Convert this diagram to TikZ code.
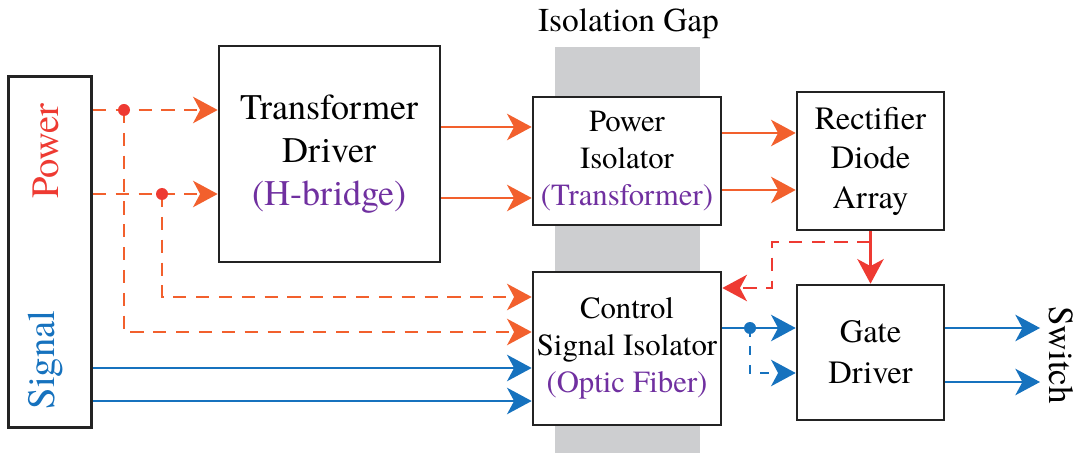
\documentclass[tikz,border=0pt]{standalone}
\usepackage{xcolor}
\usepackage{fontspec}
\setmainfont{TeX Gyre Termes}
\usepackage{tikz}
\usetikzlibrary{arrows.meta, positioning, calc}
\definecolor{myorange}{RGB}{242,96,45}
\definecolor{myred}{RGB}{238,58,50}
\definecolor{myblue}{RGB}{22,114,190}
\definecolor{mypurple}{RGB}{112,48,160}
\definecolor{mydark}{RGB}{35,35,35}
\definecolor{gapgray}{RGB}{205,206,208}
\tikzset{
  block/.style={rectangle, draw=mydark, fill=white, line width=1.5pt,
    align=center, inner sep=2pt},
  bigtxt/.style={font=\fontsize{20.5}{24.5}\selectfont},
  midtxt/.style={font=\fontsize{17.5}{21}\selectfont},
  tip/.style={-{Stealth[length=14pt,width=15pt,inset=4pt]}},
  parrow/.style={tip, line width=1.4pt, color=myorange},
  pdash/.style={parrow, dash pattern=on 7.5pt off 5.5pt},
  rarrow/.style={tip, line width=1.4pt, color=myred},
  rdash/.style={rarrow, dash pattern=on 7.5pt off 5.5pt},
  barrow/.style={tip, line width=1.4pt, color=myblue},
  bdash/.style={barrow, dash pattern=on 5pt off 5.5pt},
  junc/.style={circle, inner sep=0pt, minimum size=0.24cm}
}

\begin{document}
\begin{tikzpicture}
  \useasboundingbox (0,0) rectangle (21.56,9.06);

  % Isolation gap band
  \fill[gapgray] (11.10,0) rectangle (14.00,8.12);
  \node[font=\fontsize{19}{22}\selectfont] (gaplbl) at (12.57,8.58) {Isolation Gap};

  % Source box
  \node[block, minimum width=1.66cm, minimum height=7.02cm] (src) at (1.00,4.02) {};
  \node[rotate=90, text=myred, font=\fontsize{22}{26}\selectfont] (pwr) at (0.92,6.04) {Power};
  \node[rotate=90, text=myblue, font=\fontsize{22}{26}\selectfont] (sig) at (0.92,1.86) {Signal};

  % Main blocks
  \node[block, bigtxt, minimum width=4.42cm, minimum height=4.32cm] (td) at (6.59,5.98)
    {Transformer\\Driver\\\textcolor{mypurple}{(H-bridge)}};
  \node[block, midtxt, minimum width=3.76cm, minimum height=2.56cm] (pi) at (12.54,5.84)
    {Power\\Isolator\\\textcolor{mypurple}{(Transformer)}};
  \node[block, font=\fontsize{18.5}{22.5}\selectfont, minimum width=2.94cm, minimum height=2.76cm] (rect) at (17.41,5.84)
    {Rectifier\\Diode\\Array};
  \node[block, midtxt, minimum width=3.76cm, minimum height=3.06cm] (csi) at (12.54,2.09)
    {Control\\Signal Isolator\\\textcolor{mypurple}{(Optic Fiber)}};
  \node[block, font=\fontsize{18.5}{23.5}\selectfont, minimum width=2.94cm, minimum height=2.70cm] (gd) at (17.41,2.01)
    {Gate\\Driver};
  \node[rotate=-90, font=\fontsize{20}{24}\selectfont] (sw) at (21.22,1.96) {Switch};

  % Junction points
  \coordinate (d1) at (2.48,6.86);
  \coordinate (d2) at (3.24,5.18);
  \coordinate (c1) at (2.48,2.42);
  \coordinate (c2) at (3.24,3.12);
  \coordinate (fb1) at (15.44,4.22);
  \coordinate (fb2) at (15.44,3.30);
  \coordinate (b1) at (15.00,2.50);
  \coordinate (b2) at (15.00,1.60);
  \coordinate (s1) at (0,1.70);
  \coordinate (s2) at (0,1.04);
  \coordinate (o1) at (20.80,2.50);
  \coordinate (o2) at (20.80,1.42);

  % Power feeds
  \draw[pdash] (src.east |- d1) -- (td.west |- d1);
  \draw[pdash] (src.east |- d2) -- (td.west |- d2);
  \draw[pdash] (d1) -- (c1) -- (csi.west |- c1);
  \draw[pdash] (d2) -- (c2) -- (csi.west |- c2);
  \node[junc, fill=myred] (j1) at (d1) {};
  \node[junc, fill=myred] (j2) at (d2) {};

  % Power path through the gap
  \draw[parrow] (td.east |- 0,6.52) -- (pi.west |- 0,6.52);
  \draw[parrow] (td.east |- 0,5.10) -- (pi.west |- 0,5.10);
  \draw[parrow] (pi.east |- 0,6.40) -- (rect.west |- 0,6.40);
  \draw[parrow] (pi.east |- 0,5.26) -- (rect.west |- 0,5.26);

  % Rectified supply
  \draw[rarrow] (rect.south) -- (gd.north);
  \draw[rdash] (rect.south |- fb1) -- (fb1) -- (fb2) -- (csi.east |- fb2);

  % Signal path
  \draw[barrow] (src.east |- s1) -- (csi.west |- s1);
  \draw[barrow] (src.east |- s2) -- (csi.west |- s2);
  \draw[barrow] (csi.east |- b1) -- (gd.west |- b1);
  \draw[bdash] (b1) -- (b2) -- (gd.west |- b2);
  \node[junc, fill=myblue] (j3) at (b1) {};
  \draw[barrow] (gd.east |- o1) -- (o1);
  \draw[barrow] (gd.east |- o2) -- (o2);
\end{tikzpicture}
\end{document}
